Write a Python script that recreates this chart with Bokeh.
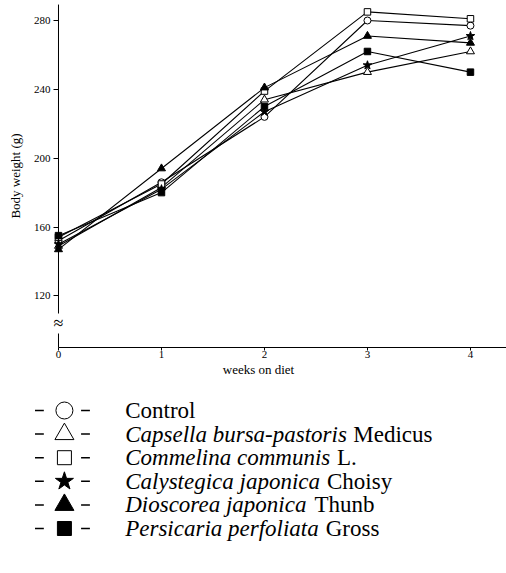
from bokeh.plotting import figure
from bokeh.models import Range1d, FixedTicker, Label, Span
from bokeh.layouts import column
from bokeh.embed import file_html
from bokeh.resources import INLINE
from bokeh.core.properties import value

# ---------------- data ----------------
weeks = [0, 1, 2, 3, 4]
control = [152, 186, 224, 280, 277]
capsella = [149, 183, 234, 250, 262]
commelina = [154, 185, 239, 285, 281]
calystegica = [150, 182, 227, 254, 271]
dioscorea = [147, 194, 241, 271, 267]
persicaria = [155, 180, 230, 262, 250]

y_ticks = [120, 160, 200, 240, 280]
x_ticks = [0, 1, 2, 3, 4]

species = ["", "Capsella bursa-pastoris", "Commelina communis",
           "Calystegica japonica", "Dioscorea japonica", "Persicaria perfoliata"]
authority = ["Control", "Medicus", "L.", "Choisy", "Thunb", "Gross"]

series = [control, capsella, commelina, calystegica, dioscorea, persicaria]
markers = ["circle", "triangle", "square", "star", "triangle", "square"]
fills = ["white", "white", "white", "black", "black", "black"]
plot_sizes = [7, 8, 6.5, 9, 8, 6.5]
legend_sizes = [17, 19, 14, 19, 19, 14]

SERIF = value("Liberation Serif")

# ---------------- main chart ----------------
p = figure(width=506, height=387,
           x_range=Range1d(-0.466, 4.35), y_range=Range1d(90, 289.3),
           output_backend="svg", toolbar_location=None,
           min_border_left=10, min_border_right=0, min_border_top=4, min_border_bottom=40)
p.grid.visible = False
p.outline_line_color = None

for vals, mk, fc, sz in zip(series, markers, fills, plot_sizes):
    p.line(weeks, vals, line_color="black", line_width=1.1)
    p.scatter(weeks, vals, marker=mk, size=sz, fill_color=fc, line_color="black", line_width=1)

ya = p.yaxis[0]
ya.fixed_location = 0
ya.ticker = FixedTicker(ticks=y_ticks)
ya.minor_tick_line_color = None
ya.major_tick_out = 5
ya.major_tick_in = 0
ya.major_label_standoff = 3
ya.axis_label = "Body weight (g)"
ya.axis_label_standoff = 8
ya.axis_label_text_font = "Liberation Serif"
ya.axis_label_text_font_style = "normal"
ya.axis_label_text_font_size = "13px"
ya.axis_label_text_color = "black"
ya.major_label_text_font = "Liberation Serif"
ya.major_label_text_font_size = "11px"
ya.major_label_text_color = "black"
ya.axis_line_color = "black"
ya.major_tick_line_color = "black"

xa = p.xaxis[0]
xa.ticker = FixedTicker(ticks=x_ticks)
xa.bounds = (0, 4.35)
xa.minor_tick_line_color = None
xa.major_tick_out = 3
xa.major_tick_in = 0
xa.major_label_standoff = 0
xa.axis_label = "weeks on diet"
xa.axis_label_standoff = 1
xa.axis_label_text_font = "Liberation Serif"
xa.axis_label_text_font_style = "normal"
xa.axis_label_text_font_size = "13px"
xa.axis_label_text_color = "black"
xa.major_label_text_font = "Liberation Serif"
xa.major_label_text_font_size = "11px"
xa.major_label_text_color = "black"
xa.axis_line_color = "black"
xa.major_tick_line_color = "black"

# y axis line (in case the fixed axis line is not drawn)
p.add_layout(Span(location=0, dimension="height", line_color="black", line_width=1))

# axis break mark
p.add_layout(Label(x=0, y=104, text="≈", text_align="center", text_baseline="middle",
                   text_font="Liberation Serif", text_font_size="18px",
                   background_fill_color="white", text_color="black"))

# ---------------- legend ----------------
LH = 186
lg = figure(width=506, height=LH, x_range=Range1d(0, 506), y_range=Range1d(LH, 0),
            output_backend="svg", toolbar_location=None,
            x_axis_location=None, y_axis_location=None,
            min_border_left=0, min_border_right=0, min_border_top=0, min_border_bottom=0)
lg.grid.visible = False
lg.outline_line_color = None

ITALIC_W = {" ": 250, "-": 333, ".": 250,
            "C": 667, "D": 722, "P": 611,
            "a": 500, "b": 500, "c": 444, "d": 500, "e": 444, "f": 278, "g": 500,
            "h": 500, "i": 278, "j": 278, "k": 444, "l": 278, "m": 722, "n": 500,
            "o": 500, "p": 500, "r": 389, "s": 389, "t": 278, "u": 500, "v": 444,
            "y": 444}
FS = 23
def italic_width(s):
    return sum(ITALIC_W.get(ch, 500) for ch in s) * FS / 1000.0

n = len(authority)
row_y = [23 + 23.6 * i for i in range(n)]
mx = [55] * n
text_x0 = 117

lg.segment(x0=[25] * n, y0=row_y, x1=[34] * n, y1=row_y, line_color="black", line_width=1.5)
lg.segment(x0=[72] * n, y0=row_y, x1=[81] * n, y1=row_y, line_color="black", line_width=1.5)
lg.scatter(mx, row_y, marker=markers, size=legend_sizes, fill_color=fills,
           line_color="black", line_width=1)

lg.text(x=[text_x0] * n, y=row_y, text=species, text_font=SERIF, text_font_style="italic",
        text_font_size=f"{FS}px", text_baseline="middle", text_align="left", text_color="black")
auth_x = [text_x0 + (italic_width(s) + 11 if s else 0) for s in species]
lg.text(x=auth_x, y=row_y, text=authority, text_font=SERIF, text_font_style="normal",
        text_font_size=f"{FS}px", text_baseline="middle", text_align="left", text_color="black")

layout = column(p, lg, spacing=0)
open("out.html", "w").write(file_html(layout, INLINE))
